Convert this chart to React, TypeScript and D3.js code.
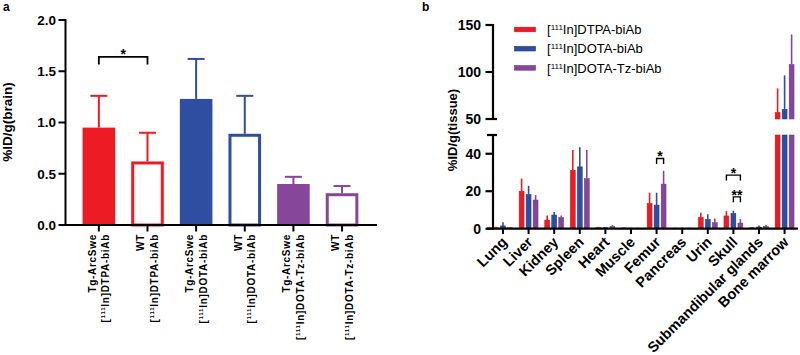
import React from "react";
import * as d3 from "d3";

// ---------- Panel a data ----------
const groupsA = ["Tg-ArcSwe", "WT", "Tg-ArcSwe", "WT", "Tg-ArcSwe", "WT"];
const tracersA = ["DTPA-biAb", "DTPA-biAb", "DOTA-biAb", "DOTA-biAb", "DOTA-Tz-biAb", "DOTA-Tz-biAb"];
const meansA = [0.95, 0.62, 1.23, 0.89, 0.4, 0.31];
const sdA = [0.31, 0.28, 0.39, 0.37, 0.07, 0.07];
const filledA = [true, false, true, false, true, false];
const ticksA = [0, 0.5, 1.0, 1.5, 2.0];

// ---------- Panel b data ----------
const tissues = ["Lung", "Liver", "Kidney", "Spleen", "Heart", "Muscle", "Femur", "Pancreas", "Urin", "Skull", "Submandibular glands", "Bone marrow"];
const seriesB = ["DTPA-biAb", "DOTA-biAb", "DOTA-Tz-biAb"];
const dtpaMean = [0.6, 20, 4.6, 31.2, 0.6, 0.4, 13.5, 0.3, 6, 6.8, 0.5, 57];
const dtpaSd = [0.4, 6.7, 2.5, 10.8, 0.4, 0.2, 5.7, 0.2, 2.5, 2.6, 0.3, 25.6];
const dotaMean = [1.5, 18.3, 7.3, 33, 0.5, 0.3, 12.6, 0.3, 5, 8.2, 0.9, 60.3];
const dotaSd = [1.9, 4.6, 1.6, 10.4, 0.3, 0.2, 6.6, 0.2, 2.7, 1.4, 0.8, 36.1];
const tzMean = [0.5, 15.3, 6, 26.7, 1.1, 0.3, 23.8, 0.3, 3.2, 3, 1.2, 108];
const tzSd = [0.3, 2.7, 1.1, 15.3, 0.9, 0.2, 7.1, 0.2, 2.3, 2.1, 0.8, 32];
const lowTicks = [0, 20, 40];
const highTicks = [50, 100, 150];

const RED = "#ed1c24";
const BLUE = "#2f4ea2";
const PURPLE = "#86479b";
const colorsA = [RED, RED, BLUE, BLUE, PURPLE, PURPLE];
const colorsB = [RED, BLUE, PURPLE];
const strokeB = ["#c4141b", "#1f3682", "#6a3580"];

const sigA = [{ from: 0, to: 1, label: "*", level: 1.64 }];
const sigB = [
  { tissue: "Femur", from: 1, to: 2, label: "*", level: 37.5 },
  { tissue: "Skull", from: 0, to: 2, label: "*", level: 28.6 },
  { tissue: "Skull", from: 1, to: 2, label: "**", level: 17 },
];

const FONT = "'Liberation Sans', Arial, Helvetica, sans-serif";

function Tracer({ name }: { name: string }) {
  return (
    <>
      [<tspan dy={-4} fontSize="0.62em">111</tspan>
      <tspan dy={4}>In]{name}</tspan>
    </>
  );
}

export default function App() {
  // ----- Panel a scales -----
  const xA = d3.scaleBand<number>().domain(d3.range(6)).range([66.5, 374.4]).padding(0.33);
  const yA = d3.scaleLinear().domain([0, 2]).range([225, 20]);
  const capHalf = 8.5;

  // ----- Panel b scales -----
  const xB = d3.scaleBand<string>().domain(tissues).range([490.2, 797.4]);
  const xInner = d3.scaleBand<number>().domain([0, 1, 2]).range([-10.5, 10.5]).paddingInner(0.3).paddingOuter(0.15);
  const yLow = d3.scaleLinear().domain([0, 50]).range([228.7, 135]);
  const yHigh = d3.scaleLinear().domain([50, 150]).range([119, 25]);
  const meansB = [dtpaMean, dotaMean, tzMean];
  const sdsB = [dtpaSd, dotaSd, tzSd];
  const axisXB = 493;
  const cx = (t: string, s: number) => (xB(t) as number) + xB.bandwidth() / 2 + (xInner(s) as number) + xInner.bandwidth() / 2;

  return (
    <svg width={800} height={355} style={{ position: "absolute", left: 0, top: 0, background: "#fff" }} fontFamily={FONT}>
      {/* ================= Panel a ================= */}
      <text x={3} y={11} fontSize={12} fontWeight="bold">a</text>
      <text transform={`translate(12,122) rotate(-90)`} textAnchor="middle" fontSize={13.5} fontWeight="bold">%ID/g(brain)</text>

      {/* bars */}
      {meansA.map((m, i) => {
        const x0 = xA(i) as number;
        const w = xA.bandwidth();
        const c = colorsA[i];
        const cxA = x0 + w / 2;
        const top = yA(m + sdA[i]);
        return (
          <g key={i}>
            <line x1={cxA} x2={cxA} y1={yA(m)} y2={top} stroke={c} strokeWidth={2} />
            <line x1={cxA - capHalf} x2={cxA + capHalf} y1={top} y2={top} stroke={c} strokeWidth={2} />
            {filledA[i] ? (
              <rect x={x0} y={yA(m)} width={w} height={yA(0) - yA(m)} fill={c} />
            ) : (
              <rect x={x0 + 1.5} y={yA(m) + 1.5} width={w - 3} height={yA(0) - yA(m) - 1.5} fill="#fff" stroke={c} strokeWidth={3} />
            )}
          </g>
        );
      })}

      {/* axes a */}
      <line x1={65.5} x2={65.5} y1={19} y2={226} stroke="#000" strokeWidth={2} />
      <line x1={60} x2={377} y1={225} y2={225} stroke="#000" strokeWidth={2} />
      {ticksA.map((t) => (
        <g key={t}>
          <line x1={58.5} x2={65.5} y1={yA(t)} y2={yA(t)} stroke="#000" strokeWidth={2} />
          <text x={56} y={yA(t) + 4.8} textAnchor="end" fontSize={13.5} fontWeight="bold">{d3.format(".1f")(t)}</text>
        </g>
      ))}
      {meansA.map((_, i) => {
        const c = (xA(i) as number) + xA.bandwidth() / 2;
        return (
          <g key={i}>
            <line x1={c} x2={c} y1={225} y2={231.5} stroke="#000" strokeWidth={2} />
            <text transform={`translate(${c},234) rotate(-90)`} textAnchor="end" fontSize={10} letterSpacing={0.7} fontWeight="bold" y={-3}>{groupsA[i]}</text>
            <text transform={`translate(${c},234) rotate(-90)`} textAnchor="end" fontSize={10} letterSpacing={0.7} fontWeight="bold" y={10.5}>
              <Tracer name={tracersA[i]} />
            </text>
          </g>
        );
      })}

      {/* significance a */}
      {sigA.map((s, k) => {
        const x1 = (xA(s.from) as number) + xA.bandwidth() / 2;
        const x2 = (xA(s.to) as number) + xA.bandwidth() / 2;
        const y = yA(s.level);
        return (
          <g key={k}>
            <path d={`M${x1},${y + 7.5}V${y}H${x2}V${y + 7.5}`} fill="none" stroke="#000" strokeWidth={1.8} />
            <text x={(x1 + x2) / 2} y={y + 2.5} textAnchor="middle" fontSize={14} fontWeight="bold">{s.label}</text>
          </g>
        );
      })}

      {/* ================= Panel b ================= */}
      <text x={422} y={11} fontSize={12} fontWeight="bold">b</text>
      <text transform={`translate(456.5,130) rotate(-90)`} textAnchor="middle" fontSize={13} fontWeight="bold">%ID/g(tissue)</text>

      {/* legend */}
      {seriesB.map((name, s) => {
        const y = 29.5 + s * 19.2;
        return (
          <g key={name}>
            <rect x={514.5} y={y - 2.3} width={21} height={4.6} fill={colorsB[s]} stroke={strokeB[s]} strokeWidth={0.6} />
            <text x={547} y={y + 4.6} fontSize={13}>
              <Tracer name={name} />
            </text>
          </g>
        );
      })}

      {/* bars b */}
      {tissues.map((t, i) => (
        <g key={t}>
          {meansB.map((arr, s) => {
            const v = arr[i];
            const top = v + sdsB[s][i];
            const c = cx(t, s);
            const w = xInner.bandwidth();
            const parts: React.ReactNode[] = [];
            if (v > 50) {
              parts.push(<line key="e" x1={c} x2={c} y1={yHigh(v)} y2={yHigh(top)} stroke={colorsB[s]} strokeWidth={1.6} />);
            } else {
              parts.push(<line key="e" x1={c} x2={c} y1={yLow(v)} y2={yLow(Math.min(top, 50))} stroke={colorsB[s]} strokeWidth={1.6} />);
            }
            const lowV = Math.min(v, 50);
            parts.push(
              <rect key="l" x={c - w / 2} y={yLow(lowV)} width={w} height={yLow(0) - yLow(lowV)} fill={colorsB[s]} stroke={strokeB[s]} strokeWidth={0.5} />
            );
            if (v > 50) {
              parts.push(
                <rect key="h" x={c - w / 2} y={yHigh(v)} width={w} height={yHigh(50) - yHigh(v)} fill={colorsB[s]} stroke={strokeB[s]} strokeWidth={0.5} />
              );
            }
            return <g key={s}>{parts}</g>;
          })}
        </g>
      ))}

      {/* axes b */}
      <line x1={axisXB} x2={axisXB} y1={24} y2={119} stroke="#000" strokeWidth={2.2} />
      <line x1={axisXB} x2={axisXB} y1={135} y2={229.7} stroke="#000" strokeWidth={2.2} />
      <line x1={487} x2={497} y1={135} y2={135} stroke="#000" strokeWidth={2.2} />
      {highTicks.map((t) => (
        <g key={t}>
          <line x1={485.5} x2={t === 50 ? 497 : axisXB} y1={yHigh(t)} y2={yHigh(t)} stroke="#000" strokeWidth={2.2} />
          <text x={481} y={yHigh(t) + 5} textAnchor="end" fontSize={14} fontWeight="bold">{t}</text>
        </g>
      ))}
      {lowTicks.map((t) => (
        <g key={t}>
          <line x1={485.5} x2={axisXB} y1={yLow(t)} y2={yLow(t)} stroke="#000" strokeWidth={2.2} />
          <text x={481} y={yLow(t) + 5} textAnchor="end" fontSize={14} fontWeight="bold">{t}</text>
        </g>
      ))}
      <line x1={487} x2={798} y1={228.7} y2={228.7} stroke="#000" strokeWidth={2.2} />
      {tissues.map((t) => {
        const c = (xB(t) as number) + xB.bandwidth() / 2;
        return (
          <g key={t}>
            <line x1={c} x2={c} y1={228.7} y2={234} stroke="#000" strokeWidth={2} />
            <text transform={`translate(${c + 5},243) rotate(-45)`} textAnchor="end" fontSize={14.5} fontWeight="bold">{t}</text>
          </g>
        );
      })}

      {/* significance b */}
      {sigB.map((s, k) => {
        const x1 = cx(s.tissue, s.from);
        const x2 = cx(s.tissue, s.to);
        const y = yLow(s.level);
        return (
          <g key={k}>
            <path d={`M${x1},${y + 5.5}V${y}H${x2}V${y + 5.5}`} fill="none" stroke="#000" strokeWidth={1.4} />
            <text x={(x1 + x2) / 2} y={y + 3} textAnchor="middle" fontSize={14} fontWeight="bold">{s.label}</text>
          </g>
        );
      })}
    </svg>
  );
}
